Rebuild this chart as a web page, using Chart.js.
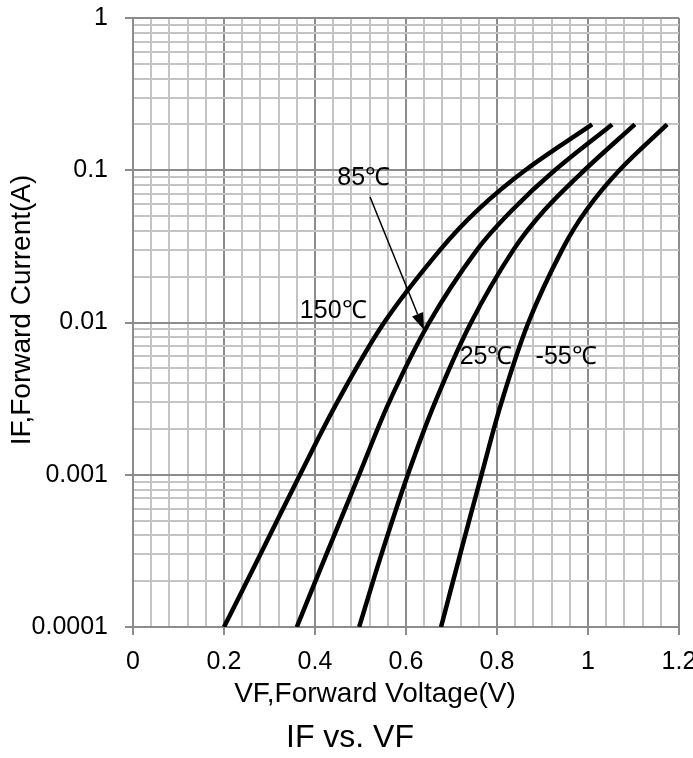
<!DOCTYPE html>
<html>
<head>
<meta charset="utf-8">
<title>IF vs. VF</title>
<script src="https://cdn.jsdelivr.net/npm/chart.js@4.4.1/dist/chart.umd.min.js"></script>
<style>
  html, body { margin: 0; padding: 0; background: #fff; overflow: hidden; }
  #wrap { position: relative; width: 700px; height: 758px; }
</style>
</head>
<body>
<div id="wrap"><canvas id="ifvf-chart"></canvas></div>
<script>
const currentA = [0.0001, 0.0003, 0.001, 0.003, 0.01, 0.03, 0.055, 0.1, 0.2];
// forward voltage (V) at those currents, one list per temperature
const vf150 = [0.2, 0.28, 0.367, 0.449, 0.552, 0.675, 0.758, 0.862, 1.009];
const vf85 = [0.36, 0.425, 0.497, 0.563, 0.651, 0.756, 0.834, 0.927, 1.053];
const vf25 = [0.497, 0.546, 0.604, 0.664, 0.743, 0.836, 0.905, 0.992, 1.103];
const vfMinus55 = [0.677, 0.719, 0.766, 0.81, 0.869, 0.943, 0.997, 1.069, 1.174];
const seriesNames = ["150℃", "85℃", "25℃", "-55℃"];

const xTickLabels = ["0", "0.2", "0.4", "0.6", "0.8", "1", "1.2"];
const yTickLabels = ["0.0001", "0.001", "0.01", "0.1", "1"];

const FONT = "'Liberation Sans', Arial, sans-serif";
const MAJOR = "#8c8c8c";
const MINOR = "#c4c4c4";

// text placed in data space (V, A)
const notes = [
    { text: "85℃", v: 0.507, i: 0.089 },
    { text: "150℃", v: 0.44, i: 0.0119 },
    { text: "25℃", v: 0.776, i: 0.00593 },
    { text: "-55℃", v: 0.952, i: 0.00593 },
];
const arrow85 = { from: [0.521, 0.0667], to: [0.6396, 0.00893] };

const isMajorX = (v) => Math.abs(v / 0.2 - Math.round(v / 0.2)) < 1e-6;
const isMajorY = (v) => {
    const e = Math.log10(v);
    return Math.abs(e - Math.round(e)) < 1e-6;
};

const toPoints = (vf) => vf.map((v, k) => ({ x: v, y: currentA[k] }));

const textPlugin = {
    id: "ifvfText",
    afterDraw(chart) {
        const { ctx, scales } = chart;
        const px = (v) => scales.x.getPixelForValue(v);
        const py = (i) => scales.y.getPixelForValue(i);
        ctx.save();
        ctx.fillStyle = "#000";
        ctx.textAlign = "center";
        ctx.textBaseline = "middle";

        ctx.font = `25px ${FONT}`;
        notes.forEach((n) => ctx.fillText(n.text, px(n.v), py(n.i)));

        // arrow pointing at the 85℃ curve
        const x1 = px(arrow85.from[0]), y1 = py(arrow85.from[1]);
        const x2 = px(arrow85.to[0]), y2 = py(arrow85.to[1]);
        const ang = Math.atan2(y2 - y1, x2 - x1);
        const hl = 17, hw = 6;
        const bx = x2 - hl * Math.cos(ang), by = y2 - hl * Math.sin(ang);
        ctx.strokeStyle = "#000";
        ctx.lineWidth = 1.5;
        ctx.beginPath();
        ctx.moveTo(x1, y1);
        ctx.lineTo(bx, by);
        ctx.stroke();
        ctx.beginPath();
        ctx.moveTo(x2, y2);
        ctx.lineTo(bx + hw * Math.sin(ang), by - hw * Math.cos(ang));
        ctx.lineTo(bx - hw * Math.sin(ang), by + hw * Math.cos(ang));
        ctx.closePath();
        ctx.fill();

        // axis titles and caption
        ctx.font = `28px ${FONT}`;
        ctx.fillText("VF,Forward Voltage(V)", 375, 694);
        ctx.font = `32px ${FONT}`;
        ctx.fillText("IF vs. VF", 350, 738);
        ctx.font = `28px ${FONT}`;
        ctx.translate(22, 310);
        ctx.rotate(-Math.PI / 2);
        ctx.fillText("IF,Forward Current(A)", 0, 0);
        ctx.restore();
    },
};

const ifvfChart = () => {
    const canvas = document.getElementById("ifvf-chart");
    const ctx = canvas.getContext("2d");

    const datasets = [vf150, vf85, vf25, vfMinus55].map((vf, k) => ({
        label: seriesNames[k],
        data: toPoints(vf),
        borderColor: "#000",
        borderWidth: 4.5,
        pointRadius: 0,
        tension: 0.35,
        fill: false,
    }));

    new Chart(ctx, {
        type: "line",
        data: { datasets },
        plugins: [textPlugin],
        options: {
            responsive: true,
            maintainAspectRatio: false,
            animation: false,
            layout: { padding: { left: 0, top: 18, right: 21, bottom: 0 } },
            plugins: {
                legend: { display: false },
                tooltip: { enabled: false },
            },
            scales: {
                x: {
                    type: "linear",
                    min: 0,
                    max: 1.2,
                    afterBuildTicks: (scale) => {
                        const ticks = [];
                        for (let k = 0; k <= 30; k++) {
                            ticks.push({ value: +(k * 0.04).toFixed(2) });
                        }
                        scale.ticks = ticks;
                    },
                    afterFit: (scale) => {
                        scale.height = 131;
                        // the 1.2 label may run off the edge, as in the original
                        scale.paddingLeft = 0;
                        scale.paddingRight = 0;
                    },
                    ticks: {
                        autoSkip: false,
                        maxRotation: 0,
                        padding: 12,
                        color: "#000",
                        font: { family: FONT, size: 25 },
                        callback: (value) =>
                            isMajorX(value) ? xTickLabels[Math.round(value / 0.2)] : "",
                    },
                    grid: {
                        lineWidth: 2,
                        tickLength: 8,
                        color: (c) => (c.tick && isMajorX(c.tick.value) ? MAJOR : MINOR),
                        tickColor: (c) =>
                            c.tick && isMajorX(c.tick.value) ? MAJOR : "rgba(0,0,0,0)",
                    },
                    border: { color: MAJOR, width: 2 },
                },
                y: {
                    type: "logarithmic",
                    min: 0.0001,
                    max: 1,
                    afterBuildTicks: (scale) => {
                        const ticks = [];
                        for (let e = -4; e <= 0; e++) {
                            for (let m = 1; m <= (e === 0 ? 1 : 9); m++) {
                                ticks.push({ value: +(m * Math.pow(10, e)).toPrecision(3) });
                            }
                        }
                        scale.ticks = ticks;
                    },
                    afterFit: (scale) => {
                        scale.width = 133;
                        scale.paddingTop = 0;
                        scale.paddingBottom = 0;
                    },
                    ticks: {
                        autoSkip: false,
                        padding: 17,
                        color: "#000",
                        font: { family: FONT, size: 25 },
                        callback: (value) =>
                            isMajorY(value)
                                ? yTickLabels[Math.round(Math.log10(value)) + 4]
                                : "",
                    },
                    grid: {
                        lineWidth: 2,
                        tickLength: 8,
                        color: (c) => (c.tick && isMajorY(c.tick.value) ? MAJOR : MINOR),
                        tickColor: (c) =>
                            c.tick && isMajorY(c.tick.value) ? MAJOR : "rgba(0,0,0,0)",
                    },
                    border: { color: MAJOR, width: 2 },
                },
            },
        },
    });
};

document.addEventListener("DOMContentLoaded", () => {
    ifvfChart();
});
</script>
</body>
</html>
